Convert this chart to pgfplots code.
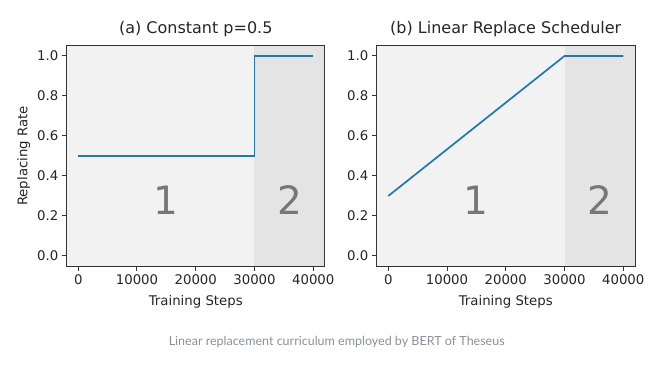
\documentclass[border=0pt]{standalone}
\usepackage{fontspec}
\setmainfont{DejaVu Sans}
\newfontfamily\capfont{Lato}
\usepackage{pgfplots}
\pgfplotsset{compat=1.18}
\definecolor{mplblue}{HTML}{1F77B4}
\definecolor{regionA}{HTML}{F2F2F2}
\definecolor{regionB}{HTML}{E4E4E4}
\definecolor{numgray}{HTML}{777777}
\definecolor{capgray}{HTML}{8A919C}
\definecolor{frame}{HTML}{333333}
\pgfplotsset{
  panel/.style={
    scale only axis, width=258.5bp, height=220bp,
    xmin=-2000, xmax=42000, ymin=-0.05, ymax=1.05,
    xtick={0,10000,20000,30000,40000},
    ytick={0,0.2,0.4,0.6,0.8,1.0},
    scaled x ticks=false,
    xticklabel style={/pgf/number format/1000 sep={}},
    yticklabel style={/pgf/number format/fixed,/pgf/number format/fixed zerofill,/pgf/number format/precision=1},
    /pgf/number format/assume math mode=true,
    tick align=outside, tick pos=left,
    major tick length=4.7bp,
    every tick/.style={frame, line width=1bp},
    axis line style={frame, line width=1bp},
    tick label style={font=\fontsize{13.3bp}{15bp}\selectfont, text=black!85},
    label style={font=\fontsize{13.3bp}{15bp}\selectfont, text=black!85},
    title style={font=\fontsize{16bp}{18bp}\selectfont, text=black!85, at={(axis description cs:0.5,1.0295)}, anchor=base},
    xlabel style={at={(axis description cs:0.5,-0.1773)}, anchor=base},
    ylabel style={at={(axis description cs:-0.151,0.5)}, anchor=base},
    axis on top,
  }
}
\begin{document}
\begin{tikzpicture}
\path[fill=white] (0bp,0bp) rectangle (666bp,366bp);
\begin{axis}[panel, at={(66.5bp,100bp)}, anchor=south west,
  title={(a) Constant p=0.5}, xlabel={Training Steps}, ylabel={Replacing Rate}]
  \addplot[fill=regionA, draw=none] coordinates {(-2000,-0.05) (30000,-0.05) (30000,1.05) (-2000,1.05)} -- cycle;
  \addplot[fill=regionB, draw=none] coordinates {(30000,-0.05) (42000,-0.05) (42000,1.05) (30000,1.05)} -- cycle;
  \addplot[mplblue, line width=1.7bp] coordinates {(0,0.5) (30000,0.5) (30000,1.0) (40000,1.0)};
  \node[text=numgray, font=\fontsize{39bp}{42bp}\selectfont] at (axis cs:15000,0.28) {1};
  \node[text=numgray, font=\fontsize{39bp}{42bp}\selectfont] at (axis cs:36000,0.28) {2};
\end{axis}
\begin{axis}[panel, at={(376.5bp,100bp)}, anchor=south west,
  title={(b) Linear Replace Scheduler}, xlabel={Training Steps}]
  \addplot[fill=regionA, draw=none] coordinates {(-2000,-0.05) (30000,-0.05) (30000,1.05) (-2000,1.05)} -- cycle;
  \addplot[fill=regionB, draw=none] coordinates {(30000,-0.05) (42000,-0.05) (42000,1.05) (30000,1.05)} -- cycle;
  \addplot[mplblue, line width=1.7bp] coordinates {(0,0.3) (30000,1.0) (40000,1.0)};
  \node[text=numgray, font=\fontsize{39bp}{42bp}\selectfont] at (axis cs:15000,0.28) {1};
  \node[text=numgray, font=\fontsize{39bp}{42bp}\selectfont] at (axis cs:36000,0.28) {2};
\end{axis}
\node[anchor=base, text=capgray, font=\capfont\fontsize{12.5bp}{14bp}\selectfont] at (336.7bp,21bp) {Linear replacement curriculum employed by BERT of Theseus};
\end{tikzpicture}
\end{document}
